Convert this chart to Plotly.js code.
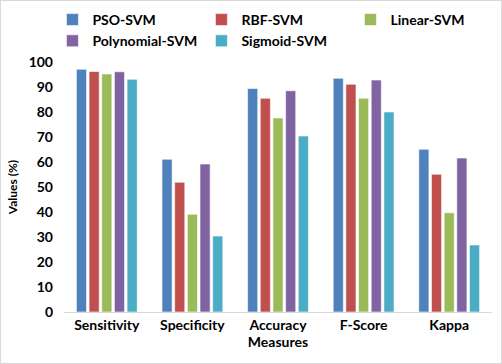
<!DOCTYPE html>
<html>
<head>
<meta charset="utf-8">
<script src="https://cdn.plot.ly/plotly-3.0.1.min.js"></script>
<style>
  html, body { margin: 0; padding: 0; background: #fff; }
  #frame { position: absolute; left: 0; top: 0; width: 500px; height: 362px; border: 1px solid #d9d9d9; pointer-events: none; }
  #chart { position: absolute; left: 0; top: 0; width: 502px; height: 364px; }
</style>
</head>
<body>
<div id="chart"></div>
<div id="frame"></div>
<script>
// Accuracy measures per classifier (%)
const measures = ["Sensitivity", "Specificity", "Accuracy", "F-Score", "Kappa"];
const psoSvm        = [97.1, 61.1, 89.4, 93.5, 65.1];
const rbfSvm        = [96.2, 51.9, 85.5, 91.1, 55.1];
const linearSvm     = [95.2, 39.1, 77.6, 85.5, 39.7];
const polynomialSvm = [96.1, 59.2, 88.5, 92.8, 61.6];
const sigmoidSvm    = [93.1, 30.4, 70.4, 80.0, 26.8];
const seriesNames   = ["PSO-SVM", "RBF-SVM", "Linear-SVM", "Polynomial-SVM", "Sigmoid-SVM"];
const seriesColors  = ["#4F81BD", "#C0504D", "#9BBB59", "#8064A2", "#4BACC6"];
const yTicks = [0, 10, 20, 30, 40, 50, 60, 70, 80, 90, 100];

const allSeries = [psoSvm, rbfSvm, linearSvm, polynomialSvm, sigmoidSvm];
const font = { family: "Lato, 'Open Sans', sans-serif", color: "#000" };

const traces = allSeries.map((vals, i) => ({
  type: "bar",
  name: seriesNames[i],
  x: measures,
  y: vals,
  marker: { color: seriesColors[i], line: { color: "#fff", width: 0.6 } },
  hoverinfo: "x+y+name"
}));

const layout = {
  width: 502,
  height: 364,
  margin: { l: 64, r: 10, t: 62, b: 52, autoexpand: false },
  paper_bgcolor: "#fff",
  plot_bgcolor: "#fff",
  font: font,
  barmode: "group",
  bargap: 0.26,
  bargroupgap: 0.2,
  showlegend: true,
  legend: {
    orientation: "h",
    x: -0.027, xanchor: "left",
    y: 1.232, yanchor: "top",
    entrywidth: 104,
    entrywidthmode: "pixels",
    font: { family: font.family, size: 14, color: "#000", weight: "bold" },
    traceorder: "normal"
  },
  xaxis: {
    showgrid: false,
    showline: true,
    linecolor: "#d9d9d9",
    linewidth: 1,
    ticks: "",
    tickfont: { family: font.family, size: 14, color: "#000", weight: "bold" },
    title: { text: "Measures", font: { family: font.family, size: 14, color: "#000", weight: "bold" }, standoff: 2 },
    fixedrange: true
  },
  yaxis: {
    range: [0, 100],
    tickvals: yTicks,
    ticktext: yTicks.map(String),
    showgrid: false,
    zeroline: false,
    showline: false,
    ticks: "",
    ticklabelstandoff: 10,
    tickfont: { family: font.family, size: 14, color: "#000", weight: "bold" },
    title: { text: "Values (%)", font: { family: font.family, size: 12, color: "#000", weight: "bold" }, standoff: 8 },
    fixedrange: true
  }
};

Plotly.newPlot("chart", traces, layout, { displayModeBar: false, staticPlot: true });
</script>
</body>
</html>
